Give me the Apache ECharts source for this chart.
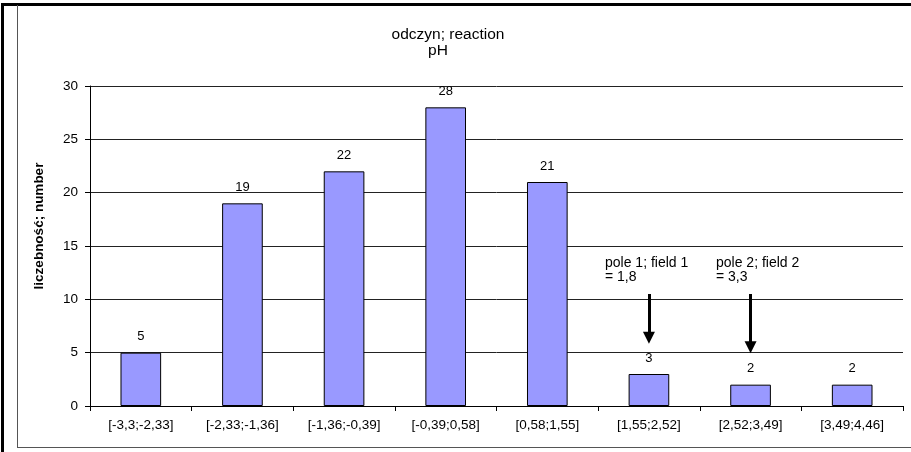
<!DOCTYPE html>
<html>
<head>
<meta charset="utf-8">
<script src="https://cdn.jsdelivr.net/npm/echarts@6/dist/echarts.min.js"></script>
<style>html,body{margin:0;padding:0;background:#fff}#c{width:911px;height:452px}</style>
</head>
<body>
<div id="c"></div>
<script>
var categories = ['[-3,3;-2,33]','[-2,33;-1,36]','[-1,36;-0,39]','[-0,39;0,58]','[0,58;1,55]','[1,55;2,52]','[2,52;3,49]','[3,49;4,46]'];
var counts = [5, 19, 22, 28, 21, 3, 2, 2];
var yTicks = [0, 5, 10, 15, 20, 25, 30];
var titleLines = ['odczyn; reaction', 'pH'];
var yName = 'liczebność; number';
var arrowCats = [5, 6];
var arrowTop = [10.5, 10.5];
var arrowTip = [6.4, 5.5];
var noteLines = [['pole 1; field 1', '= 1,8'], ['pole 2; field 2', '= 3,3']];

var font = 'Arial, "Liberation Sans", sans-serif';
var chart = echarts.init(document.getElementById('c'), null, {renderer: 'canvas'});

var arrowData = arrowCats.map(function (c, i) {
  return [{coord: [c, arrowTop[i]]}, {coord: [c, arrowTip[i]]}];
});

var graphics = [
  {type: 'rect', shape: {x: 0, y: 0, width: 911, height: 452}, style: {fill: '#fff'}, z: -10},
  {type: 'line', shape: {x1: 2.5, y1: 3, x2: 2.5, y2: 452}, style: {stroke: '#000', lineWidth: 3}, z: 10},
  {type: 'line', shape: {x1: 1, y1: 4.5, x2: 911, y2: 4.5}, style: {stroke: '#000', lineWidth: 3}, z: 10},
  {type: 'line', shape: {x1: 17.5, y1: 5, x2: 17.5, y2: 447.5}, style: {stroke: '#555', lineWidth: 1}, z: 10},
  {type: 'line', shape: {x1: 17, y1: 447.5, x2: 911, y2: 447.5}, style: {stroke: '#555', lineWidth: 1}, z: 10},
  {type: 'text', x: 448, y: 35, style: {text: titleLines[0], font: '15.5px ' + font, fill: '#000', textAlign: 'center', textVerticalAlign: 'middle'}},
  {type: 'text', x: 438, y: 51, style: {text: titleLines[1], font: '15.5px ' + font, fill: '#000', textAlign: 'center', textVerticalAlign: 'middle'}},
  {type: 'text', x: 39, y: 226, rotation: Math.PI / 2, style: {text: yName, font: 'bold 13.5px ' + font, fill: '#000', textAlign: 'center', textVerticalAlign: 'middle'}}
];
var noteX = [605, 716];
noteLines.forEach(function (lines, i) {
  graphics.push({type: 'text', x: noteX[i], y: 263, style: {text: lines[0], font: '14px ' + font, fill: '#000', textAlign: 'left', textVerticalAlign: 'middle'}});
  graphics.push({type: 'text', x: noteX[i], y: 277, style: {text: lines[1], font: '14px ' + font, fill: '#000', textAlign: 'left', textVerticalAlign: 'middle'}});
});

chart.setOption({
  animation: false,
  backgroundColor: '#fff',
  textStyle: {fontFamily: font},
  grid: {left: 90, right: 8, top: 86, bottom: 46, containLabel: false},
  xAxis: {
    type: 'category',
    data: categories,
    axisLine: {lineStyle: {color: '#000', width: 1}},
    axisTick: {show: true, alignWithLabel: false, length: 5, lineStyle: {color: '#000'}},
    axisLabel: {color: '#000', fontSize: 13.5, margin: 12, interval: 0}
  },
  yAxis: {
    type: 'value',
    min: yTicks[0],
    max: yTicks[yTicks.length - 1],
    interval: yTicks[1] - yTicks[0],
    axisLine: {show: true, lineStyle: {color: '#000', width: 1}},
    axisTick: {show: true, length: 5, lineStyle: {color: '#000'}},
    axisLabel: {color: '#000', fontSize: 13.5, margin: 12},
    splitLine: {show: true, lineStyle: {color: '#222', width: 1}}
  },
  graphic: graphics,
  series: [{
    type: 'bar',
    data: counts,
    barWidth: '40%',
    itemStyle: {color: '#9999FF', borderColor: '#000', borderWidth: 1},
    label: {show: true, position: 'top', distance: 9.5, color: '#000', fontSize: 13},
    markLine: {
      silent: true,
      symbol: ['none', 'triangle'],
      symbolSize: [12, 12],
      label: {show: false},
      lineStyle: {color: '#000', width: 3, type: 'solid'},
      data: arrowData
    }
  }]
});
</script>
</body>
</html>
